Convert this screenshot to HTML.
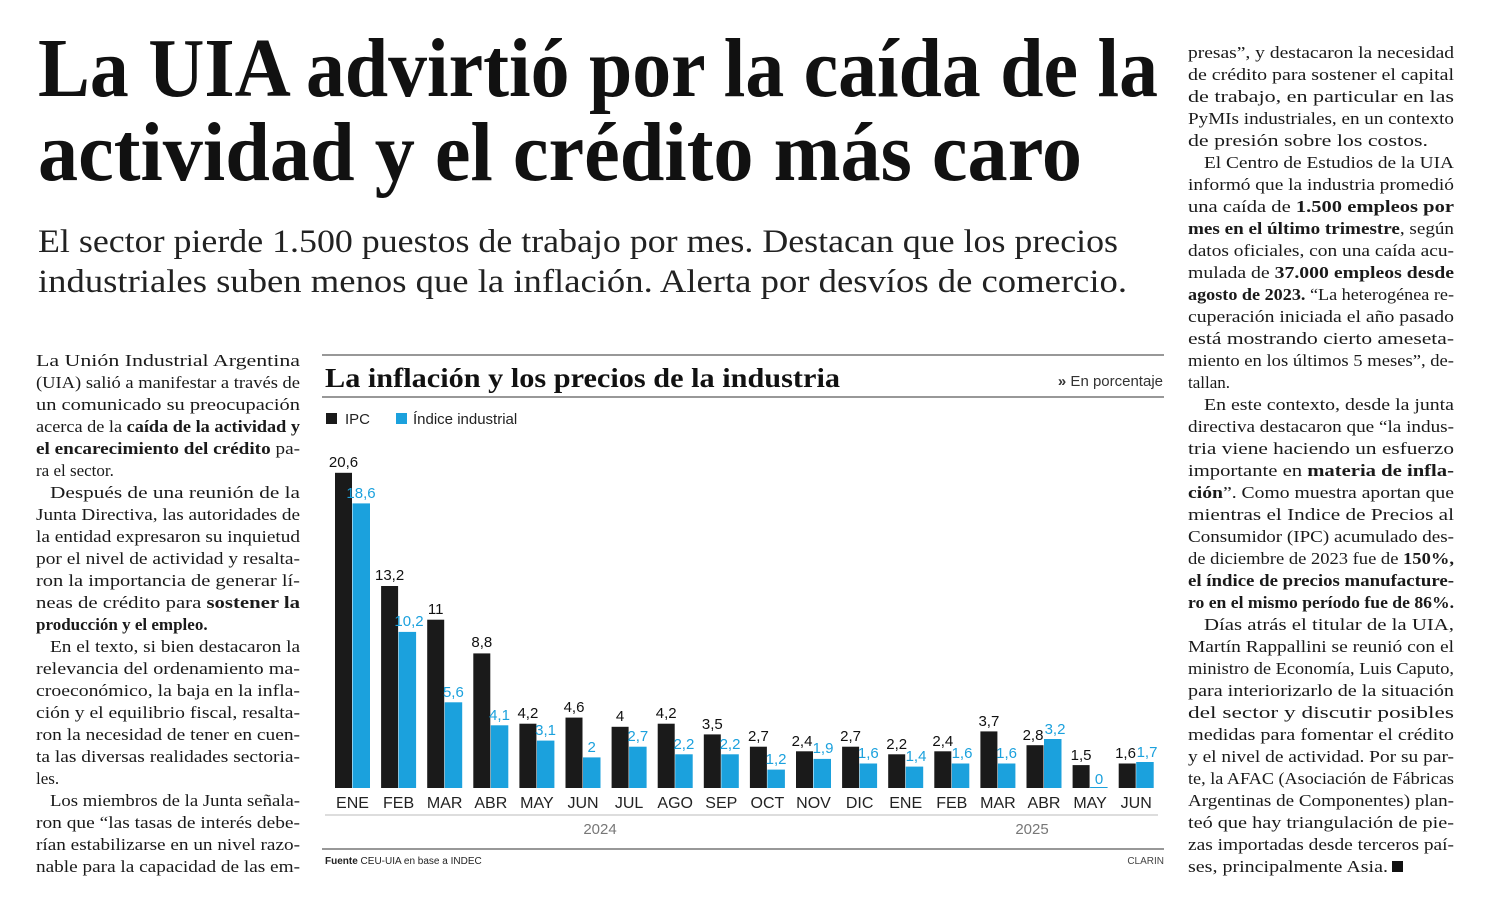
<!DOCTYPE html>
<html><head><meta charset="utf-8"><style>
html,body{margin:0;padding:0;background:#fff}
svg{display:block}
.h{font-family:"Liberation Serif",serif;font-weight:bold;font-size:84px;fill:#111}
.s{font-family:"Liberation Serif",serif;font-size:33px;fill:#222}
.b{font-family:"Liberation Serif",serif;font-size:17px;fill:#1a1a1a}
.b tspan.k{font-weight:bold}
.sans{font-family:"Liberation Sans",sans-serif}
</style></head><body>
<svg width="1502" height="910" viewBox="0 0 1502 910" xmlns="http://www.w3.org/2000/svg">
<text class="h" x="38" y="96" textLength="1120" lengthAdjust="spacingAndGlyphs">La UIA advirtió por la caída de la</text>
<text class="h" x="38" y="180" textLength="1044" lengthAdjust="spacingAndGlyphs">actividad y el crédito más caro</text>
<text class="s" x="38" y="252" textLength="1080" lengthAdjust="spacingAndGlyphs">El sector pierde 1.500 puestos de trabajo por mes. Destacan que los precios</text>
<text class="s" x="38" y="292" textLength="1089" lengthAdjust="spacingAndGlyphs">industriales suben menos que la inflación. Alerta por desvíos de comercio.</text>

<g class="b">
<text x="36" y="366" textLength="264" lengthAdjust="spacingAndGlyphs">La Unión Industrial Argentina</text>
<text x="36" y="388" textLength="264" lengthAdjust="spacingAndGlyphs">(UIA) salió a manifestar a través de</text>
<text x="36" y="410" textLength="264" lengthAdjust="spacingAndGlyphs">un comunicado su preocupación</text>
<text x="36" y="432" textLength="264" lengthAdjust="spacingAndGlyphs">acerca de la <tspan class="k">caída de la actividad y</tspan></text>
<text x="36" y="454" textLength="264" lengthAdjust="spacingAndGlyphs"><tspan class="k">el encarecimiento del crédito</tspan> pa-</text>
<text x="36" y="476">ra el sector.</text>
<text x="50" y="498" textLength="250" lengthAdjust="spacingAndGlyphs">Después de una reunión de la</text>
<text x="36" y="520" textLength="264" lengthAdjust="spacingAndGlyphs">Junta Directiva, las autoridades de</text>
<text x="36" y="542" textLength="264" lengthAdjust="spacingAndGlyphs">la entidad expresaron su inquietud</text>
<text x="36" y="564" textLength="264" lengthAdjust="spacingAndGlyphs">por el nivel de actividad y resalta-</text>
<text x="36" y="586" textLength="264" lengthAdjust="spacingAndGlyphs">ron la importancia de generar lí-</text>
<text x="36" y="608" textLength="264" lengthAdjust="spacingAndGlyphs">neas de crédito para <tspan class="k">sostener la</tspan></text>
<text x="36" y="630" class="k" font-weight="bold">producción y el empleo.</text>
<text x="50" y="652" textLength="250" lengthAdjust="spacingAndGlyphs">En el texto, si bien destacaron la</text>
<text x="36" y="674" textLength="264" lengthAdjust="spacingAndGlyphs">relevancia del ordenamiento ma-</text>
<text x="36" y="696" textLength="264" lengthAdjust="spacingAndGlyphs">croeconómico, la baja en la infla-</text>
<text x="36" y="718" textLength="264" lengthAdjust="spacingAndGlyphs">ción y el equilibrio fiscal, resalta-</text>
<text x="36" y="740" textLength="264" lengthAdjust="spacingAndGlyphs">ron la necesidad de tener en cuen-</text>
<text x="36" y="762" textLength="264" lengthAdjust="spacingAndGlyphs">ta las diversas realidades sectoria-</text>
<text x="36" y="784">les.</text>
<text x="50" y="806" textLength="250" lengthAdjust="spacingAndGlyphs">Los miembros de la Junta señala-</text>
<text x="36" y="828" textLength="264" lengthAdjust="spacingAndGlyphs">ron que “las tasas de interés debe-</text>
<text x="36" y="850" textLength="264" lengthAdjust="spacingAndGlyphs">rían estabilizarse en un nivel razo-</text>
<text x="36" y="872" textLength="264" lengthAdjust="spacingAndGlyphs">nable para la capacidad de las em-</text>
</g>

<g class="b">
<text x="1188" y="58" textLength="266" lengthAdjust="spacingAndGlyphs">presas”, y destacaron la necesidad</text>
<text x="1188" y="80" textLength="266" lengthAdjust="spacingAndGlyphs">de crédito para sostener el capital</text>
<text x="1188" y="102" textLength="266" lengthAdjust="spacingAndGlyphs">de trabajo, en particular en las</text>
<text x="1188" y="124" textLength="266" lengthAdjust="spacingAndGlyphs">PyMIs industriales, en un contexto</text>
<text x="1188" y="146" textLength="240" lengthAdjust="spacingAndGlyphs">de presión sobre los costos.</text>
<text x="1204" y="168" textLength="250" lengthAdjust="spacingAndGlyphs">El Centro de Estudios de la UIA</text>
<text x="1188" y="190" textLength="266" lengthAdjust="spacingAndGlyphs">informó que la industria promedió</text>
<text x="1188" y="212" textLength="266" lengthAdjust="spacingAndGlyphs">una caída de <tspan class="k">1.500 empleos por</tspan></text>
<text x="1188" y="234" textLength="266" lengthAdjust="spacingAndGlyphs"><tspan class="k">mes en el último trimestre</tspan>, según</text>
<text x="1188" y="256" textLength="266" lengthAdjust="spacingAndGlyphs">datos oficiales, con una caída acu-</text>
<text x="1188" y="278" textLength="266" lengthAdjust="spacingAndGlyphs">mulada de <tspan class="k">37.000 empleos desde</tspan></text>
<text x="1188" y="300" textLength="266" lengthAdjust="spacingAndGlyphs"><tspan class="k">agosto de 2023.</tspan> “La heterogénea re-</text>
<text x="1188" y="322" textLength="266" lengthAdjust="spacingAndGlyphs">cuperación iniciada el año pasado</text>
<text x="1188" y="344" textLength="266" lengthAdjust="spacingAndGlyphs">está mostrando cierto ameseta-</text>
<text x="1188" y="366" textLength="266" lengthAdjust="spacingAndGlyphs">miento en los últimos 5 meses”, de-</text>
<text x="1188" y="388">tallan.</text>
<text x="1204" y="410" textLength="250" lengthAdjust="spacingAndGlyphs">En este contexto, desde la junta</text>
<text x="1188" y="432" textLength="266" lengthAdjust="spacingAndGlyphs">directiva destacaron que “la indus-</text>
<text x="1188" y="454" textLength="266" lengthAdjust="spacingAndGlyphs">tria viene haciendo un esfuerzo</text>
<text x="1188" y="476" textLength="266" lengthAdjust="spacingAndGlyphs">importante en <tspan class="k">materia de infla-</tspan></text>
<text x="1188" y="498" textLength="266" lengthAdjust="spacingAndGlyphs"><tspan class="k">ción</tspan>”. Como muestra aportan que</text>
<text x="1188" y="520" textLength="266" lengthAdjust="spacingAndGlyphs">mientras el Indice de Precios al</text>
<text x="1188" y="542" textLength="266" lengthAdjust="spacingAndGlyphs">Consumidor (IPC) acumulado des-</text>
<text x="1188" y="564" textLength="266" lengthAdjust="spacingAndGlyphs">de diciembre de 2023 fue de <tspan class="k">150%,</tspan></text>
<text x="1188" y="586" textLength="266" lengthAdjust="spacingAndGlyphs" font-weight="bold">el índice de precios manufacture-</text>
<text x="1188" y="608" textLength="266" lengthAdjust="spacingAndGlyphs" font-weight="bold">ro en el mismo período fue de 86%.</text>
<text x="1204" y="630" textLength="250" lengthAdjust="spacingAndGlyphs">Días atrás el titular de la UIA,</text>
<text x="1188" y="652" textLength="266" lengthAdjust="spacingAndGlyphs">Martín Rappallini se reunió con el</text>
<text x="1188" y="674" textLength="266" lengthAdjust="spacingAndGlyphs">ministro de Economía, Luis Caputo,</text>
<text x="1188" y="696" textLength="266" lengthAdjust="spacingAndGlyphs">para interiorizarlo de la situación</text>
<text x="1188" y="718" textLength="266" lengthAdjust="spacingAndGlyphs">del sector y discutir posibles</text>
<text x="1188" y="740" textLength="266" lengthAdjust="spacingAndGlyphs">medidas para fomentar el crédito</text>
<text x="1188" y="762" textLength="266" lengthAdjust="spacingAndGlyphs">y el nivel de actividad. Por su par-</text>
<text x="1188" y="784" textLength="266" lengthAdjust="spacingAndGlyphs">te, la AFAC (Asociación de Fábricas</text>
<text x="1188" y="806" textLength="266" lengthAdjust="spacingAndGlyphs">Argentinas de Componentes) plan-</text>
<text x="1188" y="828" textLength="266" lengthAdjust="spacingAndGlyphs">teó que hay triangulación de pie-</text>
<text x="1188" y="850" textLength="266" lengthAdjust="spacingAndGlyphs">zas importadas desde terceros paí-</text>
<text x="1188" y="872" textLength="200" lengthAdjust="spacingAndGlyphs">ses, principalmente Asia.</text>
<rect x="1392" y="861" width="11" height="11" fill="#111"/>
</g>

<!-- chart -->
<line x1="322" y1="355" x2="1164" y2="355" stroke="#777" stroke-width="1.5"/>
<text x="325" y="387" font-family="Liberation Serif,serif" font-weight="bold" font-size="27" fill="#111" textLength="515" lengthAdjust="spacingAndGlyphs">La inflación y los precios de la industria</text>
<text x="1163" y="386" class="sans" font-size="15" fill="#333" text-anchor="end"><tspan font-weight="bold">»</tspan> En porcentaje</text>
<line x1="322" y1="397" x2="1164" y2="397" stroke="#777" stroke-width="1.5"/>
<rect x="326" y="413" width="11" height="11" fill="#1a1a1a"/>
<text x="345" y="424" class="sans" font-size="15" fill="#222">IPC</text>
<rect x="396" y="413" width="11" height="11" fill="#1ba1dd"/>
<text x="413" y="424" class="sans" font-size="15" fill="#222">Índice industrial</text>

<g id="bars" class="sans"></g>

<line x1="325" y1="815" x2="1158" y2="815" stroke="#bbb" stroke-width="1"/>
<text x="600" y="834" class="sans" font-size="15" fill="#777" text-anchor="middle">2024</text>
<text x="1032" y="834" class="sans" font-size="15" fill="#777" text-anchor="middle">2025</text>
<line x1="322" y1="849" x2="1164" y2="849" stroke="#777" stroke-width="1.5"/>
<text x="325" y="864" class="sans" font-size="10" fill="#222"><tspan font-weight="bold">Fuente</tspan> CEU-UIA en base a INDEC</text>
<text x="1164" y="864" class="sans" font-size="10" fill="#444" text-anchor="end">CLARIN</text>

<g class="sans">
<!-- generated bars: x0 = 335 + 46.1*i, base 788, scale 15.3 -->
<rect x="335.0" y="472.8" width="17" height="315.2" fill="#1a1a1a"/><rect x="352.5" y="503.4" width="17.5" height="284.6" fill="#1ba1dd"/>
<text x="343.5" y="467" font-size="15" fill="#111" text-anchor="middle">20,6</text><text x="361" y="498" font-size="15" fill="#1ba1dd" text-anchor="middle">18,6</text>
<text x="352.5" y="808" font-size="16" fill="#222" text-anchor="middle">ENE</text>

<rect x="381.1" y="586.0" width="17" height="202.0" fill="#1a1a1a"/><rect x="398.6" y="631.9" width="17.5" height="156.1" fill="#1ba1dd"/>
<text x="389.6" y="580" font-size="15" fill="#111" text-anchor="middle">13,2</text><text x="409" y="626" font-size="15" fill="#1ba1dd" text-anchor="middle">10,2</text>
<text x="398.6" y="808" font-size="16" fill="#222" text-anchor="middle">FEB</text>

<rect x="427.2" y="619.7" width="17" height="168.3" fill="#1a1a1a"/><rect x="444.7" y="702.3" width="17.5" height="85.7" fill="#1ba1dd"/>
<text x="435.7" y="614" font-size="15" fill="#111" text-anchor="middle">11</text><text x="453.4" y="697" font-size="15" fill="#1ba1dd" text-anchor="middle">5,6</text>
<text x="444.7" y="808" font-size="16" fill="#222" text-anchor="middle">MAR</text>

<rect x="473.3" y="653.4" width="17" height="134.6" fill="#1a1a1a"/><rect x="490.8" y="725.3" width="17.5" height="62.7" fill="#1ba1dd"/>
<text x="481.8" y="647" font-size="15" fill="#111" text-anchor="middle">8,8</text><text x="499.5" y="720" font-size="15" fill="#1ba1dd" text-anchor="middle">4,1</text>
<text x="490.8" y="808" font-size="16" fill="#222" text-anchor="middle">ABR</text>

<rect x="519.4" y="723.7" width="17" height="64.3" fill="#1a1a1a"/><rect x="536.9" y="740.6" width="17.5" height="47.4" fill="#1ba1dd"/>
<text x="527.9" y="718" font-size="15" fill="#111" text-anchor="middle">4,2</text><text x="545.6" y="735" font-size="15" fill="#1ba1dd" text-anchor="middle">3,1</text>
<text x="536.9" y="808" font-size="16" fill="#222" text-anchor="middle">MAY</text>

<rect x="565.5" y="717.6" width="17" height="70.4" fill="#1a1a1a"/><rect x="583.0" y="757.4" width="17.5" height="30.6" fill="#1ba1dd"/>
<text x="574" y="712" font-size="15" fill="#111" text-anchor="middle">4,6</text><text x="591.7" y="752" font-size="15" fill="#1ba1dd" text-anchor="middle">2</text>
<text x="583" y="808" font-size="16" fill="#222" text-anchor="middle">JUN</text>

<rect x="611.6" y="726.8" width="17" height="61.2" fill="#1a1a1a"/><rect x="629.1" y="746.7" width="17.5" height="41.3" fill="#1ba1dd"/>
<text x="620.1" y="721" font-size="15" fill="#111" text-anchor="middle">4</text><text x="637.8" y="741" font-size="15" fill="#1ba1dd" text-anchor="middle">2,7</text>
<text x="629.1" y="808" font-size="16" fill="#222" text-anchor="middle">JUL</text>

<rect x="657.7" y="723.7" width="17" height="64.3" fill="#1a1a1a"/><rect x="675.2" y="754.3" width="17.5" height="33.7" fill="#1ba1dd"/>
<text x="666.2" y="718" font-size="15" fill="#111" text-anchor="middle">4,2</text><text x="683.9" y="749" font-size="15" fill="#1ba1dd" text-anchor="middle">2,2</text>
<text x="675.2" y="808" font-size="16" fill="#222" text-anchor="middle">AGO</text>

<rect x="703.8" y="734.4" width="17" height="53.6" fill="#1a1a1a"/><rect x="721.3" y="754.3" width="17.5" height="33.7" fill="#1ba1dd"/>
<text x="712.3" y="729" font-size="15" fill="#111" text-anchor="middle">3,5</text><text x="730" y="749" font-size="15" fill="#1ba1dd" text-anchor="middle">2,2</text>
<text x="721.3" y="808" font-size="16" fill="#222" text-anchor="middle">SEP</text>

<rect x="749.9" y="746.7" width="17" height="41.3" fill="#1a1a1a"/><rect x="767.4" y="769.6" width="17.5" height="18.4" fill="#1ba1dd"/>
<text x="758.4" y="741" font-size="15" fill="#111" text-anchor="middle">2,7</text><text x="776.1" y="764" font-size="15" fill="#1ba1dd" text-anchor="middle">1,2</text>
<text x="767.4" y="808" font-size="16" fill="#222" text-anchor="middle">OCT</text>

<rect x="796.0" y="751.3" width="17" height="36.7" fill="#1a1a1a"/><rect x="813.5" y="758.9" width="17.5" height="29.1" fill="#1ba1dd"/>
<text x="802" y="746" font-size="15" fill="#111" text-anchor="middle">2,4</text><text x="823" y="753" font-size="15" fill="#1ba1dd" text-anchor="middle">1,9</text>
<text x="813.5" y="808" font-size="16" fill="#222" text-anchor="middle">NOV</text>

<rect x="842.1" y="746.7" width="17" height="41.3" fill="#1a1a1a"/><rect x="859.6" y="763.5" width="17.5" height="24.5" fill="#1ba1dd"/>
<text x="850.6" y="741" font-size="15" fill="#111" text-anchor="middle">2,7</text><text x="868.3" y="758" font-size="15" fill="#1ba1dd" text-anchor="middle">1,6</text>
<text x="859.6" y="808" font-size="16" fill="#222" text-anchor="middle">DIC</text>

<rect x="888.2" y="754.3" width="17" height="33.7" fill="#1a1a1a"/><rect x="905.7" y="766.6" width="17.5" height="21.4" fill="#1ba1dd"/>
<text x="896.7" y="749" font-size="15" fill="#111" text-anchor="middle">2,2</text><text x="916" y="761" font-size="15" fill="#1ba1dd" text-anchor="middle">1,4</text>
<text x="905.7" y="808" font-size="16" fill="#222" text-anchor="middle">ENE</text>

<rect x="934.3" y="751.3" width="17" height="36.7" fill="#1a1a1a"/><rect x="951.8" y="763.5" width="17.5" height="24.5" fill="#1ba1dd"/>
<text x="942.8" y="746" font-size="15" fill="#111" text-anchor="middle">2,4</text><text x="962" y="758" font-size="15" fill="#1ba1dd" text-anchor="middle">1,6</text>
<text x="951.8" y="808" font-size="16" fill="#222" text-anchor="middle">FEB</text>

<rect x="980.4" y="731.4" width="17" height="56.6" fill="#1a1a1a"/><rect x="997.9" y="763.5" width="17.5" height="24.5" fill="#1ba1dd"/>
<text x="988.9" y="726" font-size="15" fill="#111" text-anchor="middle">3,7</text><text x="1006.6" y="758" font-size="15" fill="#1ba1dd" text-anchor="middle">1,6</text>
<text x="997.9" y="808" font-size="16" fill="#222" text-anchor="middle">MAR</text>

<rect x="1026.5" y="745.2" width="17" height="42.8" fill="#1a1a1a"/><rect x="1044.0" y="739.0" width="17.5" height="49.0" fill="#1ba1dd"/>
<text x="1033" y="740" font-size="15" fill="#111" text-anchor="middle">2,8</text><text x="1055" y="734" font-size="15" fill="#1ba1dd" text-anchor="middle">3,2</text>
<text x="1044" y="808" font-size="16" fill="#222" text-anchor="middle">ABR</text>

<rect x="1072.6" y="765.1" width="17" height="22.9" fill="#1a1a1a"/><rect x="1090.1" y="787" width="17.5" height="1" fill="#1ba1dd"/>
<text x="1081.1" y="760" font-size="15" fill="#111" text-anchor="middle">1,5</text><text x="1099" y="784" font-size="15" fill="#1ba1dd" text-anchor="middle">0</text>
<text x="1090.1" y="808" font-size="16" fill="#222" text-anchor="middle">MAY</text>

<rect x="1118.7" y="763.5" width="17" height="24.5" fill="#1a1a1a"/><rect x="1136.2" y="762.0" width="17.5" height="26.0" fill="#1ba1dd"/>
<text x="1125.5" y="758" font-size="15" fill="#111" text-anchor="middle">1,6</text><text x="1147" y="757" font-size="15" fill="#1ba1dd" text-anchor="middle">1,7</text>
<text x="1136.2" y="808" font-size="16" fill="#222" text-anchor="middle">JUN</text>
</g>
</svg>
</body></html>
